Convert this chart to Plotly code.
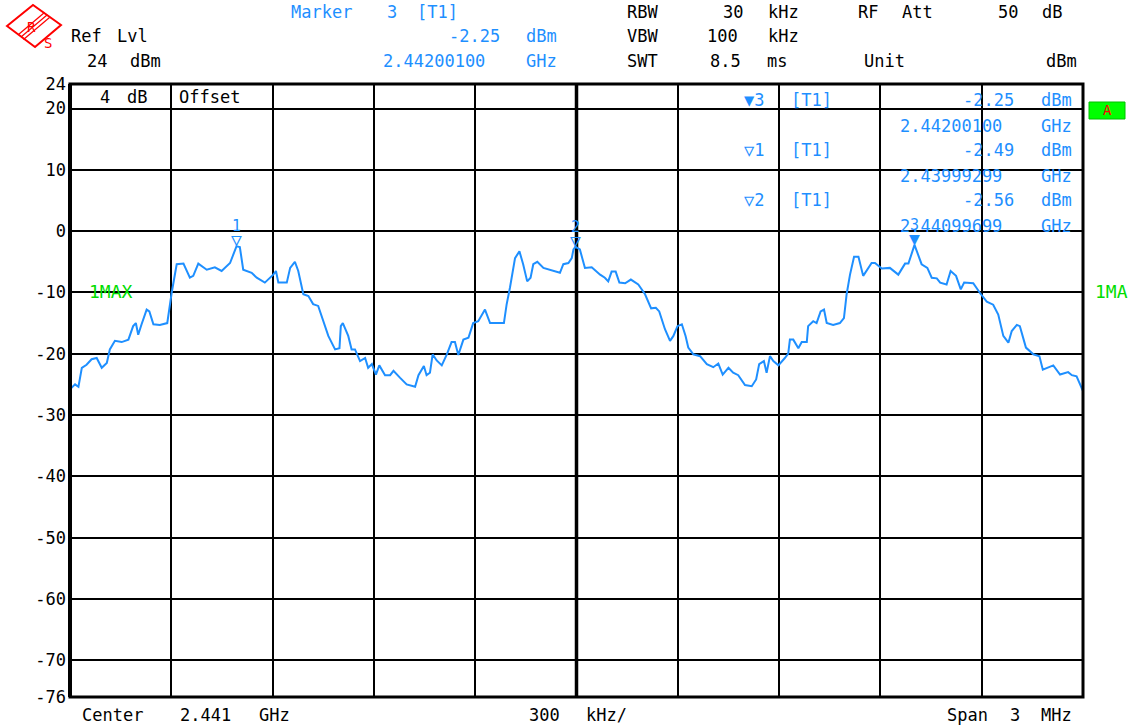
import plotly.graph_objects as go

# ---------------- data ----------------
freq_mhz = [2439.500, 2439.515, 2439.525, 2439.535, 2439.549, 2439.564, 2439.579, 2439.594, 2439.609, 2439.618,
            2439.633, 2439.653, 2439.673, 2439.687, 2439.695, 2439.702, 2439.712, 2439.727, 2439.735, 2439.747,
            2439.766, 2439.788, 2439.801, 2439.816, 2439.836, 2439.855, 2439.865, 2439.880, 2439.905, 2439.929,
            2439.949, 2439.974, 2439.993, 2440.003, 2440.013, 2440.038, 2440.053, 2440.077, 2440.102, 2440.110,
            2440.117, 2440.142, 2440.152, 2440.166, 2440.176, 2440.191, 2440.206, 2440.220, 2440.235, 2440.245,
            2440.265, 2440.285, 2440.298, 2440.302, 2440.308, 2440.324, 2440.334, 2440.344, 2440.359, 2440.374,
            2440.383, 2440.394, 2440.406, 2440.416, 2440.433, 2440.448, 2440.458, 2440.477, 2440.497, 2440.522,
            2440.532, 2440.548, 2440.556, 2440.566, 2440.574, 2440.586, 2440.601, 2440.616, 2440.630, 2440.640,
            2440.650, 2440.665, 2440.680, 2440.694, 2440.709, 2440.729, 2440.744, 2440.785, 2440.793, 2440.803,
            2440.818, 2440.831, 2440.842, 2440.854, 2440.864, 2440.872, 2440.884, 2440.902, 2440.931, 2440.951,
            2440.961, 2440.976, 2440.986, 2440.991, 2440.997, 2441.010, 2441.025, 2441.045, 2441.070, 2441.084,
            2441.094, 2441.104, 2441.116, 2441.127, 2441.144, 2441.161, 2441.183, 2441.203, 2441.221, 2441.235,
            2441.245, 2441.262, 2441.277, 2441.287, 2441.299, 2441.312, 2441.323, 2441.331, 2441.346, 2441.366,
            2441.386, 2441.405, 2441.420, 2441.433, 2441.450, 2441.464, 2441.479, 2441.499, 2441.519, 2441.532,
            2441.541, 2441.555, 2441.563, 2441.573, 2441.583, 2441.598, 2441.617, 2441.627, 2441.632, 2441.642,
            2441.657, 2441.667, 2441.682, 2441.686, 2441.701, 2441.711, 2441.723, 2441.733, 2441.741, 2441.760,
            2441.780, 2441.792, 2441.800, 2441.810, 2441.822, 2441.835, 2441.849, 2441.859, 2441.874, 2441.884,
            2441.904, 2441.928, 2441.953, 2441.973, 2441.983, 2442.001, 2442.012, 2442.022, 2442.039, 2442.052,
            2442.067, 2442.077, 2442.096, 2442.108, 2442.124, 2442.138, 2442.148, 2442.175, 2442.195, 2442.215,
            2442.234, 2442.249, 2442.264, 2442.279, 2442.289, 2442.304, 2442.313, 2442.331, 2442.353, 2442.371,
            2442.381, 2442.397, 2442.412, 2442.432, 2442.456, 2442.467, 2442.481, 2442.500]

level_dbm = [-25.8, -25.0, -25.4, -22.3, -21.8, -20.9, -20.7, -22.3, -21.5, -19.3,
             -17.9, -18.1, -17.7, -15.5, -15.0, -16.9, -15.2, -12.8, -13.1, -15.2,
             -15.3, -15.0, -10.1, -5.4, -5.3, -7.6, -7.3, -5.3, -6.3, -5.9,
             -6.5, -5.2, -2.49, -2.6, -6.3, -6.8, -7.6, -8.4, -7.1, -6.5,
             -8.4, -8.4, -6.0, -5.0, -6.5, -10.3, -10.6, -11.9, -12.2, -13.9,
             -17.1, -19.3, -19.1, -15.5, -15.0, -17.1, -19.3, -19.3, -21.2, -20.7,
             -22.3, -21.7, -23.4, -21.9, -23.5, -23.5, -22.8, -23.9, -25.0, -25.4,
             -23.5, -22.0, -23.5, -23.1, -20.1, -21.1, -21.9, -20.1, -18.1, -18.1,
             -20.2, -17.7, -17.4, -15.0, -14.7, -12.8, -15.0, -15.0, -12.0, -9.2,
             -4.4, -3.3, -5.4, -8.2, -7.6, -5.4, -5.0, -6.0, -6.4, -6.8,
             -5.4, -5.2, -4.4, -3.0, -2.56, -3.0, -6.0, -5.9, -7.1, -7.6,
             -8.2, -6.6, -6.6, -8.4, -8.5, -7.9, -8.7, -10.3, -12.6, -12.5,
             -13.1, -16.0, -17.9, -17.1, -15.5, -15.2, -17.1, -19.0, -20.1, -20.4,
             -21.7, -22.2, -21.6, -23.4, -22.3, -23.1, -23.5, -25.1, -25.3, -24.2,
             -21.7, -21.2, -23.1, -20.4, -21.2, -21.9, -20.7, -20.0, -17.7, -17.7,
             -19.1, -18.1, -18.1, -15.5, -14.7, -15.0, -13.1, -12.8, -15.0, -15.3,
             -15.0, -14.2, -10.3, -7.1, -4.2, -4.2, -7.3, -6.5, -5.2, -5.2,
             -6.1, -6.0, -7.1, -5.3, -5.3, -2.25, -3.8, -5.4, -6.0, -7.6,
             -7.7, -8.4, -8.7, -6.5, -7.3, -9.5, -8.4, -8.5, -10.1, -11.5,
             -12.0, -13.6, -17.1, -18.2, -16.3, -15.3, -15.5, -19.0, -20.1, -20.4,
             -22.6, -22.2, -21.9, -23.4, -23.0, -23.5, -23.7, -26.1]

marker_ids = [3, 1, 2]
marker_freq_ghz = [2.44200100, 2.43999299, 2.44099699]
marker_level_dbm = [-2.25, -2.49, -2.56]
active_marker = 3

center_ghz = 2.441
span_mhz = 3
div_khz = 300
ref_level = 24
y_bottom = -76
y_tick_vals = [24, 20, 10, 0, -10, -20, -30, -40, -50, -60, -70, -76]
y_tick_text = ["24", "20", "10", "0", "-10", "-20", "-30", "-40", "-50", "-60", "-70", "-76"]

assert len(freq_mhz) == len(level_dbm)

# ---------------- styling ----------------
W, H = 1133, 726
L, R, T, B = 70, 1083, 84, 697
BLUE = "#1e8fff"
GREEN = "#00dd00"
BLACK = "#000000"
FONT = "DejaVu Sans Mono"
FS = 17


def px(xp):
    return (xp - L) / (R - L)


def py(yp):
    return (B - yp) / (B - T)


anns = []


def word(text, x0, x1, y, color=BLACK, size=FS):
    anns.append(dict(text=text, x=px((x0 + x1) / 2), y=py(y), xref="paper", yref="paper",
                     xanchor="center", yanchor="middle", showarrow=False,
                     font=dict(family=FONT, size=size, color=color)))


center_mhz = center_ghz * 1000
x_start = center_mhz - span_mhz / 2
x_end = center_mhz + span_mhz / 2

fig = go.Figure()
fig.add_trace(go.Scatter(x=freq_mhz, y=level_dbm, mode="lines",
                         line=dict(color=BLUE, width=2), hoverinfo="skip", showlegend=False))

# ---- header texts ----
ai = marker_ids.index(active_marker)
word("Marker", 280, 362, 12, BLUE)
word(str(active_marker), 386, 397, 12, BLUE)
word("[T1]", 413, 461, 12, BLUE)
word(f"{marker_level_dbm[ai]:.2f}", 440, 509, 36, BLUE)
word("dBm", 520, 562, 36, BLUE)
word(f"{marker_freq_ghz[ai]:.8f}", 362, 506, 61, BLUE)
word("GHz", 520, 562, 61, BLUE)

word("Ref", 68, 105, 36)
word("Lvl", 113, 151, 36)
word(str(ref_level), 83, 110, 61)
word("dBm", 124, 167, 61)

word("RBW", 622, 662, 12)
word("30", 721, 745, 12)
word("kHz", 761, 805, 12)
word("VBW", 622, 662, 36)
word("100", 700, 745, 36)
word("kHz", 761, 805, 36)
word("SWT", 622, 662, 61)
word("8.5", 706, 745, 61)
word("ms", 761, 792, 61)
word("RF", 856, 880, 12)
word("Att", 893, 941, 12)
word("50", 996, 1020, 12)
word("dB", 1035, 1068, 12)
word("Unit", 856, 912, 61)
word("dBm", 1040, 1083, 61)

# bottom
word("Center", 70, 155, 715)
word(f"{center_ghz:g}", 170, 240, 715)
word("GHz", 253, 296, 715)
word(str(div_khz), 522, 566, 715)
word("kHz/", 580, 632, 715)
word("Span", 939, 996, 715)
word(str(span_mhz), 1010, 1020, 715)
word("MHz", 1035, 1078, 715)

# in-plot labels
word("4", 100, 110, 97)
word("dB", 124, 150, 97)
word("Offset", 168, 250, 97)
word("1MAX", 80, 142, 291, GREEN, 18)
word("1MA", 1091, 1131, 291, GREEN, 18)

# marker table
for i, (mid, fg, lv) in enumerate(zip(marker_ids, marker_freq_ghz, marker_level_dbm)):
    y1 = 100 + 50 * i
    y2 = 126 + 50 * i
    sym = "▼" if mid == active_marker else "▽"
    word(f"{sym}{mid}", 740, 768, y1, BLUE)
    word("[T1]", 787, 836, y1, BLUE)
    word(f"{lv:.2f}", 955, 1022, y1, BLUE)
    word("dBm", 1035, 1078, y1, BLUE)
    word(f"{fg:.8f}", 880, 1022, y2, BLUE)
    word("GHz", 1035, 1078, y2, BLUE)

# markers on the trace
for mid, fg, lv in zip(marker_ids, marker_freq_ghz, marker_level_dbm):
    sym = "▼" if mid == active_marker else "▽"
    anns.append(dict(text=sym, x=fg * 1000, y=lv, xref="x", yref="y", xanchor="center",
                     yanchor="bottom", showarrow=False, borderpad=0, yshift=-5,
                     font=dict(family=FONT, size=18, color=BLUE)))
    anns.append(dict(text=str(mid), x=fg * 1000, y=lv, xref="x", yref="y", xanchor="center",
                     yanchor="bottom", showarrow=False, borderpad=0, yshift=10,
                     font=dict(family=FONT, size=15, color=BLUE)))

# "A" box
anns.append(dict(text="A", x=px(1107), y=py(110), xref="paper", yref="paper",
                 xanchor="center", yanchor="middle", showarrow=False,
                 font=dict(family=FONT, size=14, color="#ff0000")))

shapes = []
# centre line emphasis
shapes.append(dict(type="line", xref="x", yref="paper", x0=center_mhz, x1=center_mhz, y0=0, y1=1,
                   line=dict(color=BLACK, width=3.5), layer="below"))
# frame
shapes.append(dict(type="rect", xref="paper", yref="paper", x0=0, x1=1, y0=0, y1=1,
                   line=dict(color=BLACK, width=3)))
shapes.append(dict(type="line", xref="paper", yref="paper", x0=0, x1=0, y0=0, y1=1,
                   line=dict(color=BLACK, width=4)))
# A box
shapes.append(dict(type="rect", xref="paper", yref="paper", x0=px(1089), x1=px(1125), y0=py(119), y1=py(102),
                   fillcolor="#00ff00", line=dict(color="#00c000", width=1), layer="below"))
# R&S logo diamond
shapes.append(dict(type="path", xref="paper", yref="paper",
                   path=f"M {px(7)},{py(26)} L {px(33)},{py(5)} L {px(61)},{py(25)} L {px(35)},{py(47)} Z",
                   line=dict(color="#ff0000", width=2)))
for d in (-2.5, 0, 2.5):
    shapes.append(dict(type="line", xref="paper", yref="paper",
                       x0=px(21 + d), y0=py(37 + d), x1=px(47 + d), y1=py(15 + d),
                       line=dict(color="#ff0000", width=1.2)))
anns.append(dict(text="R", x=px(25), y=py(17), xref="paper", yref="paper", showarrow=False,
                 font=dict(family=FONT, size=14, color="#ff0000")))
anns.append(dict(text="S", x=px(42), y=py(33), xref="paper", yref="paper", showarrow=False,
                 font=dict(family=FONT, size=14, color="#ff0000")))

fig.update_layout(
    width=W, height=H,
    margin=dict(l=L, r=W - R, t=T, b=H - B, pad=0),
    paper_bgcolor="white", plot_bgcolor="white",
    showlegend=False,
    annotations=anns, shapes=shapes,
    xaxis=dict(range=[x_start, x_end], tickmode="linear", tick0=x_start, dtick=div_khz / 1000,
               showticklabels=False, ticks="", showgrid=True, gridcolor=BLACK, gridwidth=1.8,
               zeroline=False, showline=False, fixedrange=True),
    yaxis=dict(range=[y_bottom, ref_level], tickmode="array", tickvals=y_tick_vals, ticktext=y_tick_text,
               ticks="", showgrid=True, gridcolor=BLACK, gridwidth=1.8, zeroline=False, showline=False,
               tickfont=dict(family=FONT, size=FS, color=BLACK), ticklabelstandoff=3, fixedrange=True),
)

fig.write_html("out.html", config={"displayModeBar": False},
               post_script="document.body.style.margin='0';document.body.style.overflow='hidden';")
